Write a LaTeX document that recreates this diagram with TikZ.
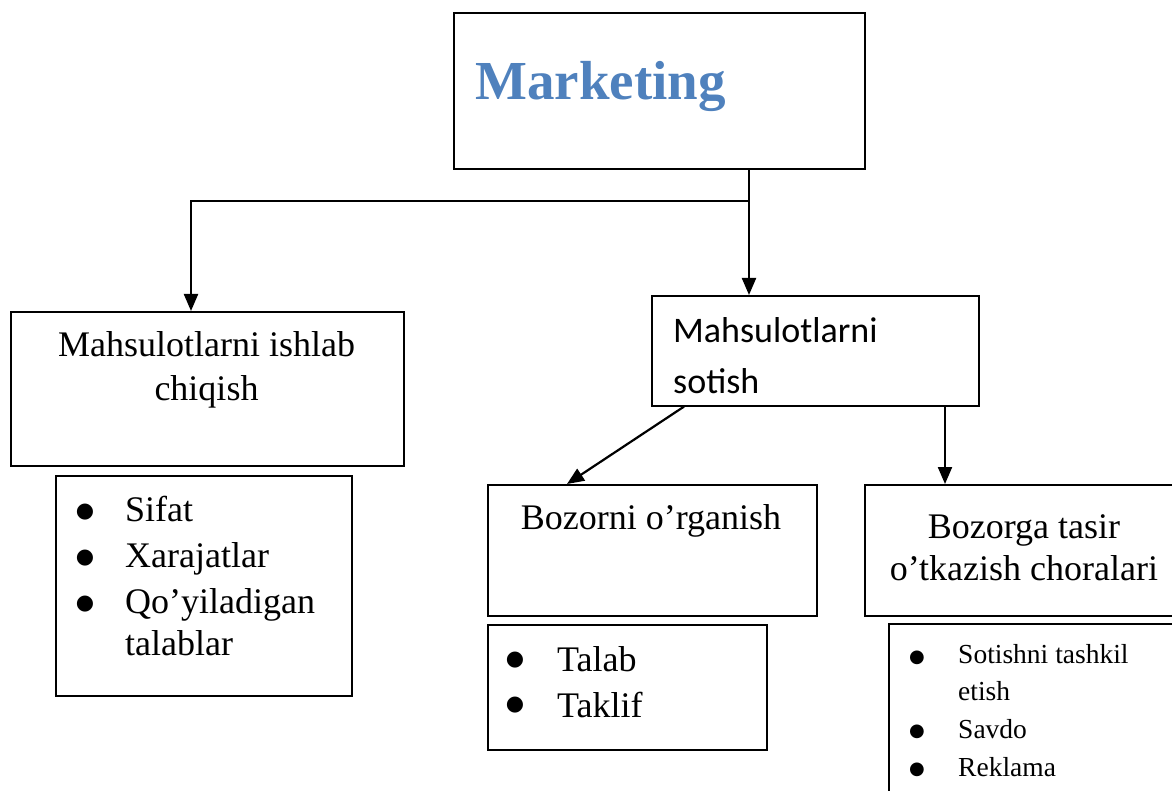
\documentclass[tikz,border=0pt]{standalone}
\usepackage{fontspec}
\setmainfont{Liberation Serif}
\newfontfamily\calibfont{Carlito}
\newfontfamily\symfont{DejaVu Sans}
\usetikzlibrary{arrows.meta}
\definecolor{mkblue}{HTML}{4F81BD}
\begin{document}
\begin{tikzpicture}[x=1pt,y=-1pt,
  box/.style={draw, line width=1.6pt, inner sep=0pt, anchor=north west},
  arr/.style={line width=2.2pt, -{Triangle[length=17pt,width=14pt]}},
  txt/.style={inner sep=0pt, anchor=base, font=\fontsize{36}{44}\selectfont},
  ltxt/.style={inner sep=0pt, anchor=base west, font=\fontsize{36}{44}\selectfont},
  bul/.style={inner sep=0pt, anchor=center, font=\symfont\fontsize{21}{24}\selectfont},
  stxt/.style={inner sep=0pt, anchor=base west, font=\fontsize{27.5}{34}\selectfont},
  sbul/.style={inner sep=0pt, anchor=center, font=\symfont\fontsize{18}{20}\selectfont}]
\useasboundingbox (0,0) rectangle (1172,791);
\clip (0,0) rectangle (1172,791);

% boxes
\node[box, minimum width=411pt, minimum height=156pt] (mk) at (453,12) {};
\node[box, minimum width=393pt, minimum height=154pt] (b1) at (10,311) {};
\node[box, minimum width=296pt, minimum height=220pt] (l1) at (55,475) {};
\node[box, minimum width=327pt, minimum height=110pt] (b2) at (651,295) {};
\node[box, minimum width=329pt, minimum height=131pt] (b3) at (487,484) {};
\node[box, minimum width=330pt, minimum height=131pt] (b4) at (864,484) {};
\node[box, minimum width=279pt, minimum height=125pt] (l3) at (487,624) {};
\node[box, minimum width=300pt, minimum height=200pt] (l4) at (888,623) {};

% title
\node[inner sep=0pt, anchor=base west, text=mkblue,
      font=\fontsize{55}{60}\selectfont\bfseries] (mkt) at (475,100) {Marketing};

% production branch
\node[txt] (b1a) at (206.5,356) {Mahsulotlarni ishlab};
\node[txt] (b1b) at (206.5,400) {chiqish};
\node[bul] (u1) at (85,512.5) {●};
\node[ltxt] (t1) at (125,521) {Sifat};
\node[bul] (u2) at (85,558.5) {●};
\node[ltxt] (t2) at (125,567) {Xarajatlar};
\node[bul] (u3) at (85,604.5) {●};
\node[ltxt] (t3) at (125,613) {Qo’yiladigan};
\node[ltxt] (t4) at (125,655) {talablar};

% sales branch
\node[inner sep=0pt, anchor=base west, font=\calibfont\fontsize{36}{44}\selectfont] (b2a) at (673,342) {Mahsulotlarni};
\node[inner sep=0pt, anchor=base west, font=\calibfont\fontsize{36}{44}\selectfont] (b2b) at (673,393) {sotish};

\node[txt] (b3a) at (651,529) {Bozorni o’rganish};
\node[bul] (v1) at (515,660) {●};
\node[ltxt] (s1) at (557,671) {Talab};
\node[bul] (v2) at (515,705) {●};
\node[ltxt] (s2) at (557,717) {Taklif};

\node[txt] (b4a) at (1024,538) {Bozorga tasir};
\node[txt] (b4b) at (1024,580) {o’tkazish choralari};
\node[sbul] (w1) at (917,657.5) {●};
\node[stxt] (r1) at (958,663) {Sotishni tashkil};
\node[stxt] (r2) at (958,700) {etish};
\node[sbul] (w2) at (917,731.7) {●};
\node[stxt] (r3) at (958,738) {Savdo};
\node[sbul] (w3) at (917,770) {●};
\node[stxt] (r4) at (958,776) {Reklama};

% connectors
\coordinate (split) at (749,201);
\coordinate (lj) at (191,201);
\coordinate (d1) at (684,0);
\coordinate (d2) at (567,0);
\coordinate (d3) at (945,0);
\draw[arr] (mk.south -| split) -- (split |- b2.north);
\draw[arr] (split) -- (lj) -- (lj |- b1.north);
\draw[arr] (b2.south -| d1) -- (b3.north -| d2);
\draw[arr] (b2.south -| d3) -- (b4.north -| d3);
\end{tikzpicture}
\end{document}
